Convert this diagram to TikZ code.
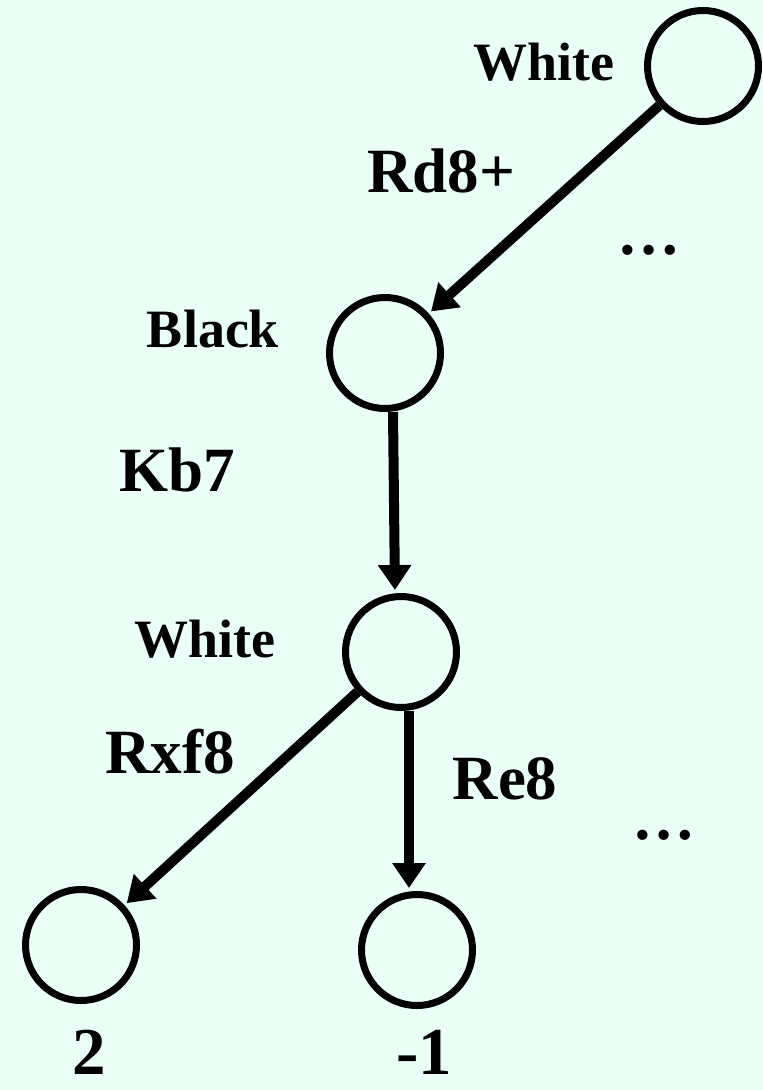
\documentclass[tikz,border=0pt]{standalone}
\usepackage{fontspec}
\setmainfont{Liberation Serif}
\usetikzlibrary{positioning, arrows.meta}
\definecolor{bgmint}{RGB}{234,255,245}

\begin{document}
\begin{tikzpicture}[x=1pt,y=-1pt,
        state/.style={draw,circle,line width=7pt,minimum size=111pt,inner sep=0pt},
        move/.style={line width=10pt,shorten >=3pt,-{Triangle[length=25pt,width=32pt]}},
        side/.style={anchor=base,font=\fontsize{54}{60}\selectfont\bfseries},
        mv/.style={anchor=base,font=\fontsize{63}{70}\selectfont\bfseries},
        val/.style={anchor=base,inner sep=1pt,font=\fontsize{67}{76}\selectfont\bfseries}]
    \fill[bgmint] (0,0) rectangle (763,1090);
    \useasboundingbox (0,0) rectangle (763,1090);
    % positions
    \node[state] (w1) at (703,66) {};
    \node[state] (b) at (385,353) {};
    \node[state] (w2) at (401,652) {};
    \node[state] (l1) at (81,945) {};
    \node[state] (l2) at (417,950) {};
    % side to move
    \node[side] (tw1) at (544,80) {White};
    \node[side] (tb) at (213,347) {Black};
    \node[side] (tw2) at (205,657) {White};
    % moves
    \draw[move] (w1) -- (b);
    \draw[move] ([xshift=8pt]b.south) -- ([xshift=-6pt]w2.north);
    \draw[move] (w2) -- (l1);
    \draw[move] ([xshift=8pt]w2.south) -- ([xshift=-8pt]l2.north);
    \node[mv] (m1) at (441,192) {Rd8+};
    \node[mv] (m2) at (177,491) {Kb7};
    \node[mv] (m3) at (170,773) {Rxf8};
    \node[mv] (m4) at (505,799) {Re8};
    \node[mv] (d1) at (649,254) {…};
    \node[mv] (d2) at (664,839) {…};
    % values
    \node[val] (v1) at (89,1074) {2};
    \node[val] (v2) at (424,1074) {-1};
\end{tikzpicture}
\end{document}
